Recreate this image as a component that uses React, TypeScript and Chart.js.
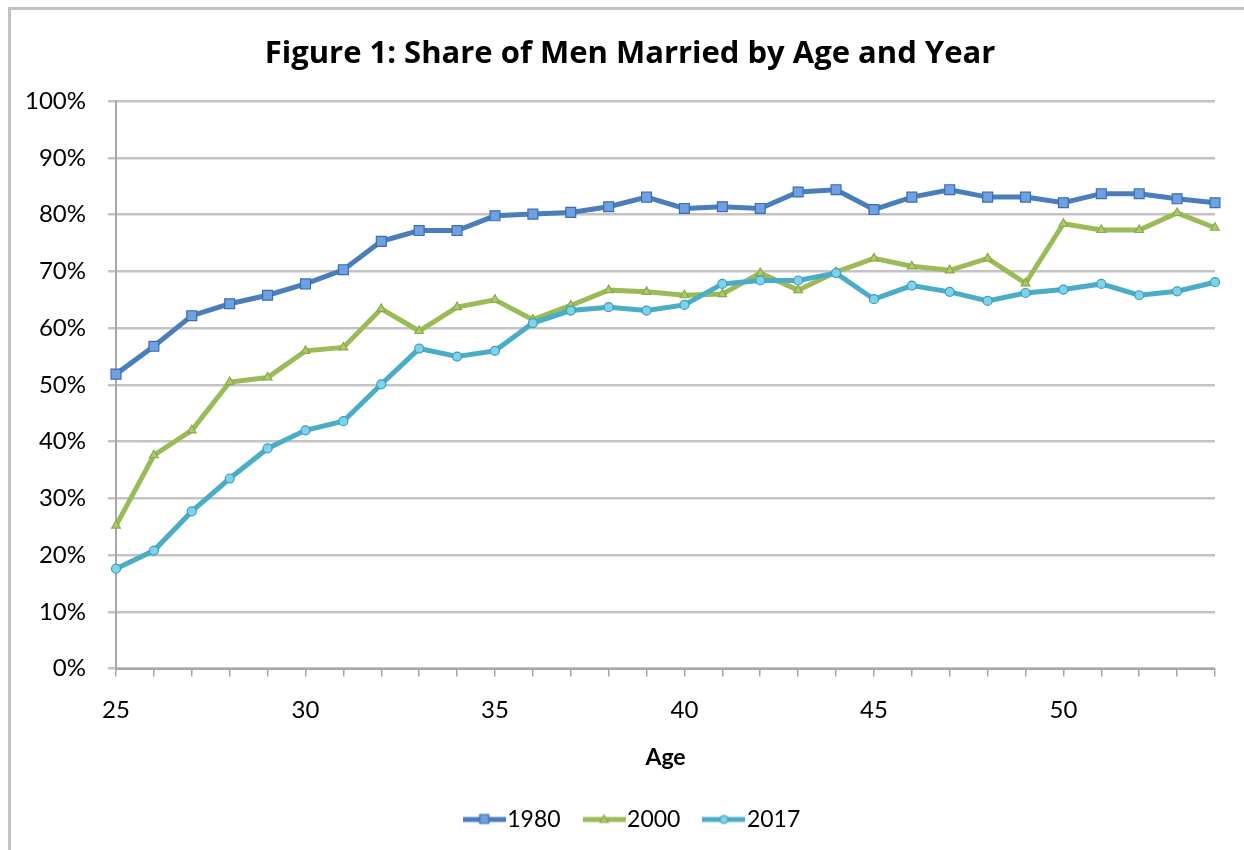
import React, { useEffect, useRef } from 'react';
import { Chart, registerables } from 'chart.js';

Chart.register(...registerables);

const ages = [25, 26, 27, 28, 29, 30, 31, 32, 33, 34, 35, 36, 37, 38, 39, 40, 41, 42, 43, 44, 45, 46, 47, 48, 49, 50, 51, 52, 53, 54];
const xTickLabels = [25, 30, 35, 40, 45, 50];
const share1980 = [51.9, 56.8, 62.2, 64.3, 65.8, 67.8, 70.3, 75.3, 77.2, 77.2, 79.8, 80.1, 80.4, 81.4, 83.1, 81.1, 81.4, 81.1, 84.0, 84.4, 80.9, 83.1, 84.4, 83.1, 83.1, 82.1, 83.7, 83.7, 82.8, 82.1];
const share2000 = [25.2, 37.6, 42.0, 50.5, 51.3, 56.0, 56.6, 63.4, 59.5, 63.7, 65.0, 61.5, 64.0, 66.7, 66.4, 65.8, 66.0, 69.7, 66.7, 69.9, 72.3, 70.9, 70.2, 72.3, 67.9, 78.4, 77.3, 77.3, 80.3, 77.7];
const share2017 = [17.6, 20.8, 27.7, 33.5, 38.8, 42.0, 43.6, 50.1, 56.4, 55.0, 56.0, 60.9, 63.1, 63.7, 63.1, 64.1, 67.8, 68.4, 68.4, 69.7, 65.1, 67.5, 66.4, 64.8, 66.2, 66.8, 67.8, 65.8, 66.5, 68.1];
const seriesNames = ['1980', '2000', '2017'];

const FONT = 'Lato, "Open Sans", sans-serif';
const TITLE_FONT = '"Open Sans", Lato, sans-serif';

type Style = { line: string; fill: string; border: string; shape: string; radius: number };
const styles: Style[] = [
  { line: '#4a7ebb', fill: '#6fa1e2', border: '#3a6db0', shape: 'rect', radius: 7 },
  { line: '#9bbb59', fill: '#aecb6a', border: '#89a94a', shape: 'triangle', radius: 5 },
  { line: '#4bacc6', fill: '#7fd2ea', border: '#3a9fba', shape: 'circle', radius: 4.5 },
];

function legendIcon(s: Style): HTMLCanvasElement {
  const c = document.createElement('canvas');
  c.width = 43;
  c.height = 14;
  const ctx = c.getContext('2d')!;
  ctx.strokeStyle = s.line;
  ctx.lineWidth = 5;
  ctx.beginPath();
  ctx.moveTo(0, 7);
  ctx.lineTo(43, 7);
  ctx.stroke();
  ctx.fillStyle = s.fill;
  ctx.strokeStyle = s.border;
  ctx.lineWidth = 1.2;
  ctx.beginPath();
  if (s.shape === 'rect') {
    ctx.rect(17, 2, 9, 9);
  } else if (s.shape === 'triangle') {
    ctx.moveTo(21.5, 2.5);
    ctx.lineTo(25.5, 10);
    ctx.lineTo(17.5, 10);
    ctx.closePath();
  } else {
    ctx.arc(21.5, 7, 4, 0, Math.PI * 2);
  }
  ctx.fill();
  ctx.stroke();
  return c;
}

// shifts the centred title and legend boxes so they are centred like the original
const recentre = {
  id: 'recentre',
  afterLayout(chart: any) {
    if (chart.titleBlock) {
      chart.titleBlock.left = 45;
      chart.titleBlock.right = chart.chartArea.right;
    }
    if (chart.legend) {
      chart.legend.left = 58;
      chart.legend.right = chart.chartArea.right;
    }
  },
};

export default function App() {
  const ref = useRef<HTMLCanvasElement>(null);

  useEffect(() => {
    const values = [share1980, share2000, share2017];
    const icons = styles.map(legendIcon);
    const chart = new Chart(ref.current!, {
      type: 'line',
      data: {
        labels: ages.map(String),
        datasets: values.map((v, i) => ({
          label: seriesNames[i],
          data: v,
          borderColor: styles[i].line,
          backgroundColor: styles[i].fill,
          borderWidth: 5,
          pointStyle: styles[i].shape as any,
          pointRadius: styles[i].radius,
          pointBackgroundColor: styles[i].fill,
          pointBorderColor: styles[i].border,
          pointBorderWidth: 1.2,
          tension: 0,
          order: 2 - i,
        })),
      },
      plugins: [recentre],
      options: {
        animation: false,
        responsive: false,
        maintainAspectRatio: false,
        layout: { padding: { left: 8, right: 29, top: 0, bottom: 9 } },
        plugins: {
          title: {
            display: true,
            text: 'Figure 1: Share of Men Married by Age and Year',
            color: '#000',
            font: { family: TITLE_FONT, size: 31, weight: 'bold' },
            padding: { top: 36, bottom: 28 },
          },
          legend: {
            position: 'bottom',
            labels: {
              color: '#000',
              font: { family: FONT, size: 23 },
              usePointStyle: true,
              pointStyleWidth: 23,
              boxHeight: 14,
              padding: 32,
              generateLabels: () =>
                seriesNames.map((n, i) => ({
                  text: n,
                  pointStyle: icons[i],
                  fillStyle: styles[i].line,
                  strokeStyle: styles[i].line,
                  lineWidth: 0,
                  hidden: false,
                  datasetIndex: i,
                  fontColor: '#000',
                })) as any,
            },
          },
          tooltip: { enabled: false },
        },
        scales: {
          x: {
            type: 'category',
            offset: false,
            grid: {
              drawOnChartArea: false,
              drawTicks: true,
              tickLength: 8,
              color: '#a8a8a8',
              lineWidth: 1.5,
            },
            border: { color: '#a8a8a8', width: 2 },
            ticks: {
              autoSkip: false,
              maxRotation: 0,
              padding: 19,
              color: '#000',
              font: { family: FONT, size: 24 },
              callback: (_v: any, idx: number) => (xTickLabels.includes(ages[idx]) ? String(ages[idx]) : ''),
            },
            title: {
              display: true,
              text: 'Age',
              color: '#000',
              font: { family: FONT, size: 23, weight: 'bold' },
              padding: { top: 0, bottom: 5 },
            },
          },
          y: {
            min: 0,
            max: 100,
            afterFit: (axis: any) => {
              axis.width = 108;
            },
            grid: {
              color: '#c4c4c4',
              lineWidth: 2.5,
              drawTicks: true,
              tickLength: 8,
            },
            border: { color: '#a8a8a8', width: 2 },
            ticks: {
              stepSize: 10,
              padding: 22,
              color: '#000',
              font: { family: FONT, size: 24 },
              callback: (v: any) => v + '%',
            },
          },
        },
      },
    });
    return () => chart.destroy();
  }, []);

  return (
    <div style={{ position: 'absolute', left: 0, top: 0, width: 1244, height: 850, background: '#fff', overflow: 'hidden' }}>
      <canvas ref={ref} width={1244} height={850} style={{ position: 'absolute', left: 0, top: 0, width: 1244, height: 850 }} />
      <div style={{ position: 'absolute', left: 8, top: 7, width: 1300, height: 900, borderLeft: '3px solid #c2c2c2', borderTop: '3px solid #c2c2c2', pointerEvents: 'none' }} />
    </div>
  );
}
